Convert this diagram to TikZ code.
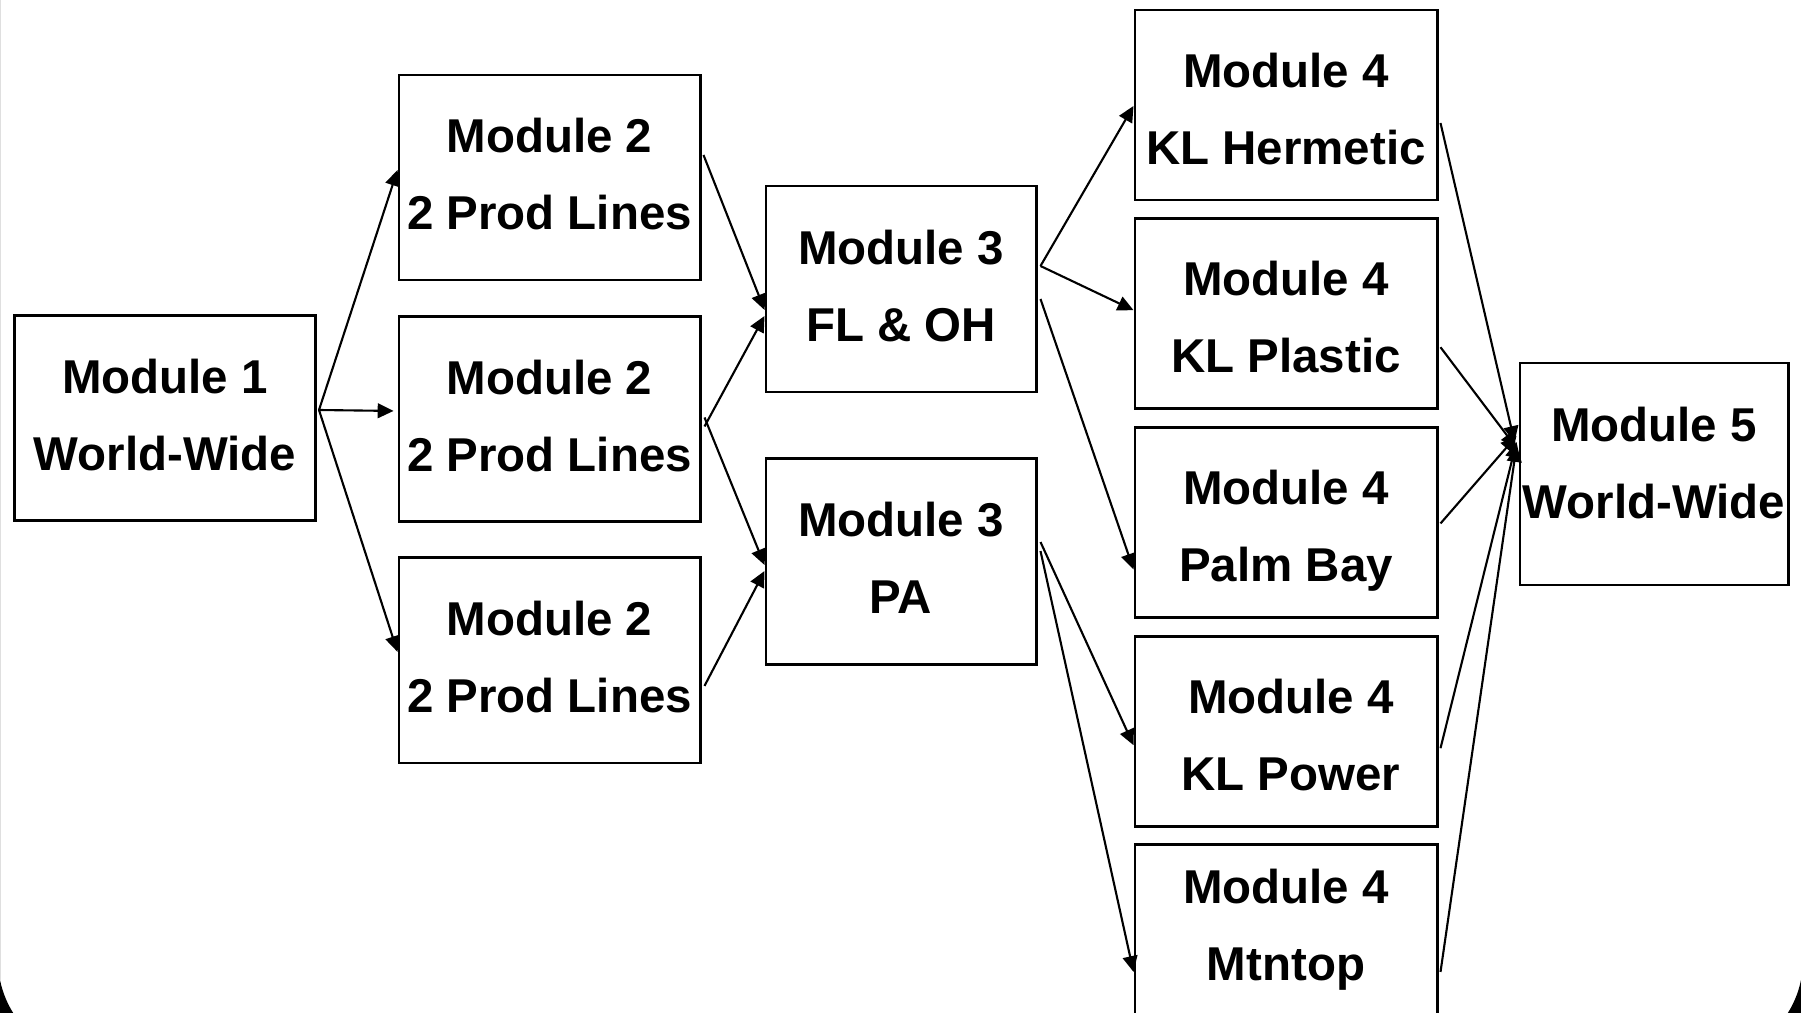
\documentclass[tikz,border=0pt]{standalone}
\usepackage{fontspec}
\setmainfont{Liberation Sans}
\usetikzlibrary{arrows.meta,positioning,calc}

\begin{document}
\begin{tikzpicture}[
			x=0.01cm, y=-0.01cm,
			node distance=0.335cm,
			modbox/.style={
				rectangle,
				draw=black,
				line width=0.8pt,
				fill=white,
				minimum width=3.01cm,
				minimum height=2.05cm,
				inner sep=0pt,
				text depth=0.07cm,
				align=center,
				font=\fontsize{13.5}{21.9}\selectfont\bfseries
			},
			midbox/.style={
				modbox,
				minimum width=2.70cm,
				minimum height=2.06cm
			},
			sitebox/.style={
				modbox,
				text height=33.7pt,
				text depth=0pt,
				minimum width=3.02cm,
				minimum height=1.90cm
			},
			endbox/.style={
				modbox,
				text depth=0.23cm,
				minimum width=2.68cm,
				minimum height=2.22cm
			},
			arrow/.style={-{Triangle[length=4.5pt,width=4.2pt]},line width=0.6pt,draw=black}
			]
			\useasboundingbox (0,0) rectangle (1801,1013);
			% black frame corners at the bottom
			\fill[black, even odd rule] (0,0) rectangle (1801,1013)
				[rounded corners=1cm] (-2,-200) rectangle (1803,1060);
			
			\node[modbox] (m1) at (165,418) {Module 1\\World-Wide};
			\node[modbox] (m2a) at (549.5,177.5) {Module 2\\2 Prod Lines};
			\node[modbox, below=of m2a] (m2b) {Module 2\\2 Prod Lines};
			\node[modbox, below=of m2b] (m2c) {Module 2\\2 Prod Lines};
			\node[midbox] (m3a) at (901,289) {Module 3\\FL \& OH};
			\node[midbox] (m3b) at (901,561.5) {Module 3\\PA};
			\node[sitebox] (m4a) at (1286,105) {Module 4\\KL Hermetic};
			\node[sitebox, below=0.158cm of m4a] (m4b) {Module 4\\KL Plastic};
			\node[sitebox, below=0.158cm of m4b] (m4c) {Module 4\\Palm Bay};
			\node[sitebox, below=0.158cm of m4c] (m4d) {\hspace{0.1cm}Module 4\\\hspace{0.1cm}KL Power};
			\node[sitebox, text height=31.7pt, text depth=8.5pt, below=0.158cm of m4d] (m4e) {Module 4\\Mtntop};
			\node[endbox] (m5) at (1654,474) {Module 5\\World-Wide};
			
			% module 1 to module 2
			\coordinate (m1out) at ($(m1.east)+(2,-8)$);
			\draw[arrow] (m1out) -- ($(m2a.west)+(0,-7.5)$);
			\draw[arrow] (m1out) -- ($(m2b.west)+(-4,-8)$);
			\draw[arrow] (m1out) -- ($(m2c.west)+(0,-8.5)$);
			
			% module 2 to module 3
			\draw[arrow] ($(m2a.east)+(2,-22.5)$) -- ($(m3a.west)+(0,21)$);
			\draw[arrow] ($(m2b.east)+(3,7.5)$) -- ($(m3a.west)+(0,27)$);
			\draw[arrow] ($(m2b.east)+(3,-1.5)$) -- ($(m3b.west)+(0,3.5)$);
			\draw[arrow] ($(m2c.east)+(3,25.5)$) -- ($(m3b.west)+(0,9.5)$);
			
			% module 3 to module 4
			\coordinate (m3aout) at ($(m3a.east)+(3,-23)$);
			\draw[arrow] (m3aout) -- ($(m4a.west)+(0,1)$);
			\draw[arrow] (m3aout) -- ($(m4b.west)+(0,-3.5)$);
			\draw[arrow] ($(m3a.east)+(3,10)$) -- ($(m4c.west)+(0,47)$);
			\draw[arrow] ($(m3b.east)+(3,-19.5)$) -- ($(m4d.west)+(0,14)$);
			\draw[arrow] ($(m3b.east)+(3,-10.5)$) -- ($(m4e.west)+(0,32)$);
			
			% module 4 to module 5
			\draw[arrow] ($(m4a.east)+(2,18)$) -- ($(m5.west)+(-4,-32)$);
			\draw[arrow] ($(m4b.east)+(2,33.5)$) -- ($(m5.west)+(-2,-26)$);
			\draw[arrow] ($(m4c.east)+(2,1)$) -- ($(m5.west)+(-2,-38)$);
			\draw[arrow] ($(m4d.east)+(2,17)$) -- ($(m5.west)+(-2,-32)$);
			\draw[arrow] ($(m4e.east)+(2,32)$) -- ($(m5.west)+(-2,-28)$);
		\end{tikzpicture}
\end{document}
